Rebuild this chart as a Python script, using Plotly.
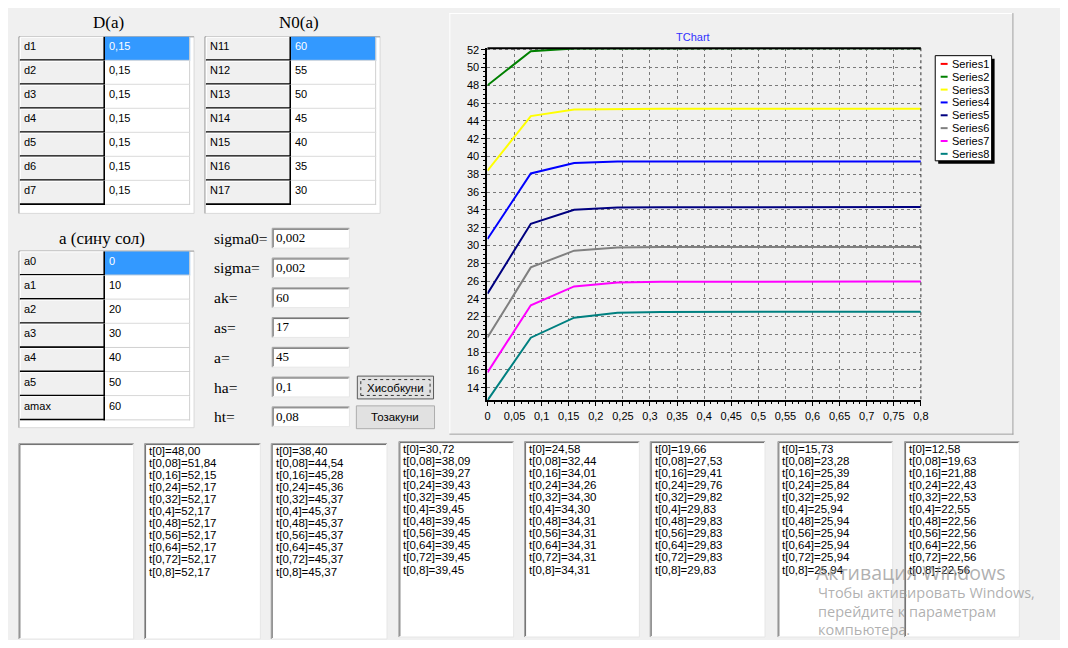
import plotly.graph_objects as go

# The page body keeps its default 8 px margin, so the figure is 1052x632 and
# every reference pixel (X, Y) maps to figure pixel (X - 8, Y - 8).
PAGE_W, PAGE_H = 1068, 648
OX, OY = 8, 8
FW, FH = PAGE_W - 2 * OX, PAGE_H - 2 * OY

# ---------------- data ----------------
t_values = [0, 0.08, 0.16, 0.24, 0.32, 0.4, 0.48, 0.56, 0.64, 0.72, 0.8]
t_labels = ["0", "0,08", "0,16", "0,24", "0,32", "0,4", "0,48", "0,56", "0,64", "0,72", "0,8"]

series_names = ["Series1", "Series2", "Series3", "Series4", "Series5", "Series6", "Series7", "Series8"]
series_colors = ["#FF0000", "#008000", "#FFFF00", "#0000FF", "#000080", "#808080", "#FF00FF", "#008080"]

series1 = []
series2 = [48.00, 51.84, 52.15, 52.17, 52.17, 52.17, 52.17, 52.17, 52.17, 52.17, 52.17]
series3 = [38.40, 44.54, 45.28, 45.36, 45.37, 45.37, 45.37, 45.37, 45.37, 45.37, 45.37]
series4 = [30.72, 38.09, 39.27, 39.43, 39.45, 39.45, 39.45, 39.45, 39.45, 39.45, 39.45]
series5 = [24.58, 32.44, 34.01, 34.26, 34.30, 34.30, 34.31, 34.31, 34.31, 34.31, 34.31]
series6 = [19.66, 27.53, 29.41, 29.76, 29.82, 29.83, 29.83, 29.83, 29.83, 29.83, 29.83]
series7 = [15.73, 23.28, 25.39, 25.84, 25.92, 25.94, 25.94, 25.94, 25.94, 25.94, 25.94]
series8 = [12.58, 19.63, 21.88, 22.43, 22.53, 22.55, 22.56, 22.56, 22.56, 22.56, 22.56]
series_values = [series1, series2, series3, series4, series5, series6, series7, series8]

x_tick_vals = [0, 0.05, 0.1, 0.15, 0.2, 0.25, 0.3, 0.35, 0.4, 0.45, 0.5, 0.55, 0.6, 0.65, 0.7, 0.75, 0.8]
x_tick_labels = ["0", "0,05", "0,1", "0,15", "0,2", "0,25", "0,3", "0,35", "0,4", "0,45", "0,5",
                 "0,55", "0,6", "0,65", "0,7", "0,75", "0,8"]
y_tick_vals = [14, 16, 18, 20, 22, 24, 26, 28, 30, 32, 34, 36, 38, 40, 42, 44, 46, 48, 50, 52]
y_tick_labels = ["14", "16", "18", "20", "22", "24", "26", "28", "30", "32", "34", "36", "38", "40",
                 "42", "44", "46", "48", "50", "52"]

chart_title = "TChart"

d_title = "D(a)"
d_labels = ["d1", "d2", "d3", "d4", "d5", "d6", "d7"]
d_values = ["0,15", "0,15", "0,15", "0,15", "0,15", "0,15", "0,15"]

n0_title = "N0(a)"
n0_labels = ["N11", "N12", "N13", "N14", "N15", "N16", "N17"]
n0_values = ["60", "55", "50", "45", "40", "35", "30"]

a_title = "a (сину сол)"
a_labels = ["a0", "a1", "a2", "a3", "a4", "a5", "amax"]
a_values = ["0", "10", "20", "30", "40", "50", "60"]

param_labels = ["sigma0=", "sigma=", "ak=", "as=", "a=", "ha=", "ht="]
param_values = ["0,002", "0,002", "60", "17", "45", "0,1", "0,08"]

button_labels = ["Хисобкуни", "Тозакуни"]

watermark_lines = ["Активация Windows", "Чтобы активировать Windows,", "перейдите к параметрам", "компьютера."]

# ---------------- helpers ----------------
shapes = []
annotations = []


def px(x):
    return (x - OX) / FW


def py(y):
    return 1 - (y - OY) / FH


def rect(x0, y0, x1, y1, fill=None, line=None, lw=1, layer="below", dash="solid"):
    shapes.append(dict(type="rect", xref="paper", yref="paper",
                       x0=px(x0), x1=px(x1), y0=py(y1), y1=py(y0),
                       fillcolor=fill if fill else "rgba(0,0,0,0)",
                       line=dict(color=line if line else "rgba(0,0,0,0)", width=lw if line else 0, dash=dash),
                       layer=layer))


def seg(x0, y0, x1, y1, color, lw=1, layer="below", dash="solid"):
    shapes.append(dict(type="line", xref="paper", yref="paper",
                       x0=px(x0), x1=px(x1), y0=py(y0), y1=py(y1),
                       line=dict(color=color, width=lw, dash=dash), layer=layer))


def text(x, y, s, size=11, color="black", family="Liberation Sans", xanchor="left"):
    annotations.append(dict(xref="paper", yref="paper", x=px(x), y=py(y), text=s, showarrow=False,
                            xanchor=xanchor, yanchor="middle", borderpad=0,
                            font=dict(size=size, color=color, family=family)))


def sunken(x0, y0, x1, y1, fill="white"):
    rect(x0, y0, x1, y1, fill=fill, line="#e6e6e6")
    seg(x0, y0, x1, y0, "#a0a0a0")
    seg(x0, y0, x0, y1, "#a0a0a0")
    seg(x0 + 1, y0 + 1, x1 - 1, y0 + 1, "#6e6e6e")
    seg(x0 + 1, y0 + 1, x0 + 1, y1 - 1, "#6e6e6e")


def string_grid(bx0, by0, bx1, by1, xm, xr, top, rh, labels, values):
    rect(bx0, by0, bx1, by1, fill="white", line="#d9d9d9")
    seg(bx0, by0, bx1, by0, "#a0a0a0")
    seg(bx0, by0, bx0, by1, "#a0a0a0")
    x0 = bx0 + 1
    for i, (lab, val) in enumerate(zip(labels, values)):
        t0 = top + i * rh
        t1 = t0 + rh
        # fixed (header) cell
        rect(x0, t0, xm, t1, fill="#f0f0f0")
        seg(x0 + 0.5, t0 + 0.5, xm, t0 + 0.5, "#ffffff")
        seg(x0 + 0.5, t0 + 0.5, x0 + 0.5, t1, "#ffffff")
        seg(x0, t1 - 0.8, xm, t1 - 0.8, "#000000", 1.6)
        seg(xm - 0.8, t0, xm - 0.8, t1, "#000000", 1.6)
        # data cell
        sel = (i == 0)
        rect(xm, t0, xr, t1, fill="#3399FF" if sel else "white")
        seg(xm, t1 - 0.5, xr, t1 - 0.5, "#d0d0d0")
        seg(xr - 0.5, t0, xr - 0.5, t1, "#d0d0d0")
        text(x0 + 3, t0 + 9.5, lab, size=11)
        text(xm + 3, t0 + 9.5, val, size=11, color="white" if sel else "black")


# titles of the tables
text(107, 18, d_title, size=17, family="Liberation Serif", xanchor="center")
text(299, 18, n0_title, size=17, family="Liberation Serif", xanchor="center")
text(100, 235, a_title, size=17, family="Liberation Serif", xanchor="center")

string_grid(16, 32, 193, 210, 103, 189, 32, 24.2, d_labels, d_values)
string_grid(204, 32, 381, 210, 291, 377, 32, 24.2, n0_labels, n0_values)
string_grid(16, 248, 193, 426, 103, 189, 248.3, 24.33, a_labels, a_values)

# parameters
param_box_tops = [225, 255, 285, 315, 345, 375, 405]
for lab, val, bt in zip(param_labels, param_values, param_box_tops):
    sunken(272, bt, 350, bt + 20)
    text(212, bt + 10, lab, size=15.5, family="Liberation Serif")
    text(274.5, bt + 9.5, val, size=13, family="Liberation Serif")

# buttons
rect(358, 374, 435, 397, fill="#e1e1e1", line="#5a5a5a", lw=1)
rect(361.5, 377.5, 431.5, 393.5, line="#333333", lw=1, dash="dot")
text(396.5, 385.5, button_labels[0], size=11.5, xanchor="center")
rect(357, 404, 436, 427, fill="#e1e1e1", line="#adadad", lw=1)
text(396.5, 415.5, button_labels[1], size=11.5, xanchor="center")

# chart panel
rect(451, 8, 1021, 433, fill="#f0f0f0")
seg(451, 8.5, 1021, 8.5, "#ffffff")
seg(451.5, 8, 451.5, 433, "#ffffff")
seg(1020.5, 8, 1020.5, 433, "#a0a0a0")
seg(451, 432.5, 1021, 432.5, "#a0a0a0")
text(697, 32, chart_title, size=11, color="#3030ff", xanchor="center")

# plot area frame (top solid, right dashed)
PX0, PX1 = 489.5, 927.5
PY0, PY1 = 43.5, 398.5
seg(PX0, PY0, PX1, PY0, "#000000", 2, layer="above")
seg(PX1, PY0, PX1, PY1, "#303030", 1, layer="above", dash="3px,3px")

# legend
rect(945, 54, 1002, 160, fill="#000000")
rect(942, 51, 999, 157, fill="white", line="#000000", lw=1)
for i, (nm, col) in enumerate(zip(series_names, series_colors)):
    yy = 59.3 + i * 12.95
    seg(947.5, yy, 954.5, yy, col, 2, layer="above")
    text(957.5, yy, nm, size=11)

# memo boxes
memo_left = [16, 143, 271, 400, 527, 654, 783, 911]
memo_right = [132, 260, 388, 516, 643, 770, 899, 1027]
memo_top = [442, 442, 442, 440, 440, 440, 440, 440]
memo_bottom = [639, 639, 639, 637, 637, 637, 637, 637]
for k in range(8):
    sunken(memo_left[k], memo_top[k], memo_right[k], memo_bottom[k])
    vals = series_values[k]
    for j, v in enumerate(vals):
        s = "t[" + t_labels[j] + "]=" + ("%.2f" % v).replace(".", ",")
        text(memo_left[k] + 3.5, memo_top[k] + 7.3 + j * 12.17, s, size=11.5)

# watermark
wm = "rgba(150,150,150,0.75)"
text(821, 571.5, watermark_lines[0], size=19.5, color=wm, family="Open Sans")
text(823, 592, watermark_lines[1], size=14.5, color=wm, family="Open Sans")
text(823, 611.5, watermark_lines[2], size=14.5, color=wm, family="Open Sans")
text(823, 629, watermark_lines[3], size=14.5, color=wm, family="Open Sans")

# ---------------- figure ----------------
fig = go.Figure()
for nm, col, vals in zip(series_names, series_colors, series_values):
    fig.add_trace(go.Scatter(x=t_values[:len(vals)], y=vals, mode="lines", name=nm,
                             line=dict(color=col, width=2), showlegend=False, hoverinfo="skip"))

fig.update_layout(
    width=FW, height=FH, autosize=False,
    margin=dict(l=0, r=0, t=0, b=0, pad=0),
    paper_bgcolor="#f0f0f0", plot_bgcolor="rgba(0,0,0,0)",
    font=dict(family="Liberation Sans", size=11, color="black"),
    showlegend=False,
    shapes=shapes, annotations=annotations,
    xaxis=dict(domain=[px(PX0), px(PX1)], range=[0, 0.8], tickmode="array",
               tickvals=x_tick_vals, ticktext=x_tick_labels,
               showline=True, linecolor="black", linewidth=2,
               ticks="outside", ticklen=4, tickcolor="black", tickwidth=1,
               showgrid=True, gridcolor="#7a7a7a", gridwidth=1, griddash="3px,3px",
               zeroline=False, tickfont=dict(size=11, color="black"),
               minor=dict(tickmode="linear", tick0=0, dtick=0.0125, ticks="outside", ticklen=2,
                          tickcolor="black", showgrid=False),
               fixedrange=True),
    yaxis=dict(domain=[py(PY1), py(PY0)], range=[12.58, 52.17], tickmode="array",
               tickvals=y_tick_vals, ticktext=y_tick_labels,
               showline=True, linecolor="black", linewidth=2,
               ticks="outside", ticklen=4, tickcolor="black", tickwidth=1,
               showgrid=True, gridcolor="#7a7a7a", gridwidth=1, griddash="3px,3px",
               zeroline=False, tickfont=dict(size=11, color="black"),
               minor=dict(tickmode="linear", tick0=0, dtick=0.5, ticks="outside", ticklen=2,
                          tickcolor="black", showgrid=False),
               fixedrange=True),
)

fig.write_html("out.html", config={"displayModeBar": False, "staticPlot": True})
